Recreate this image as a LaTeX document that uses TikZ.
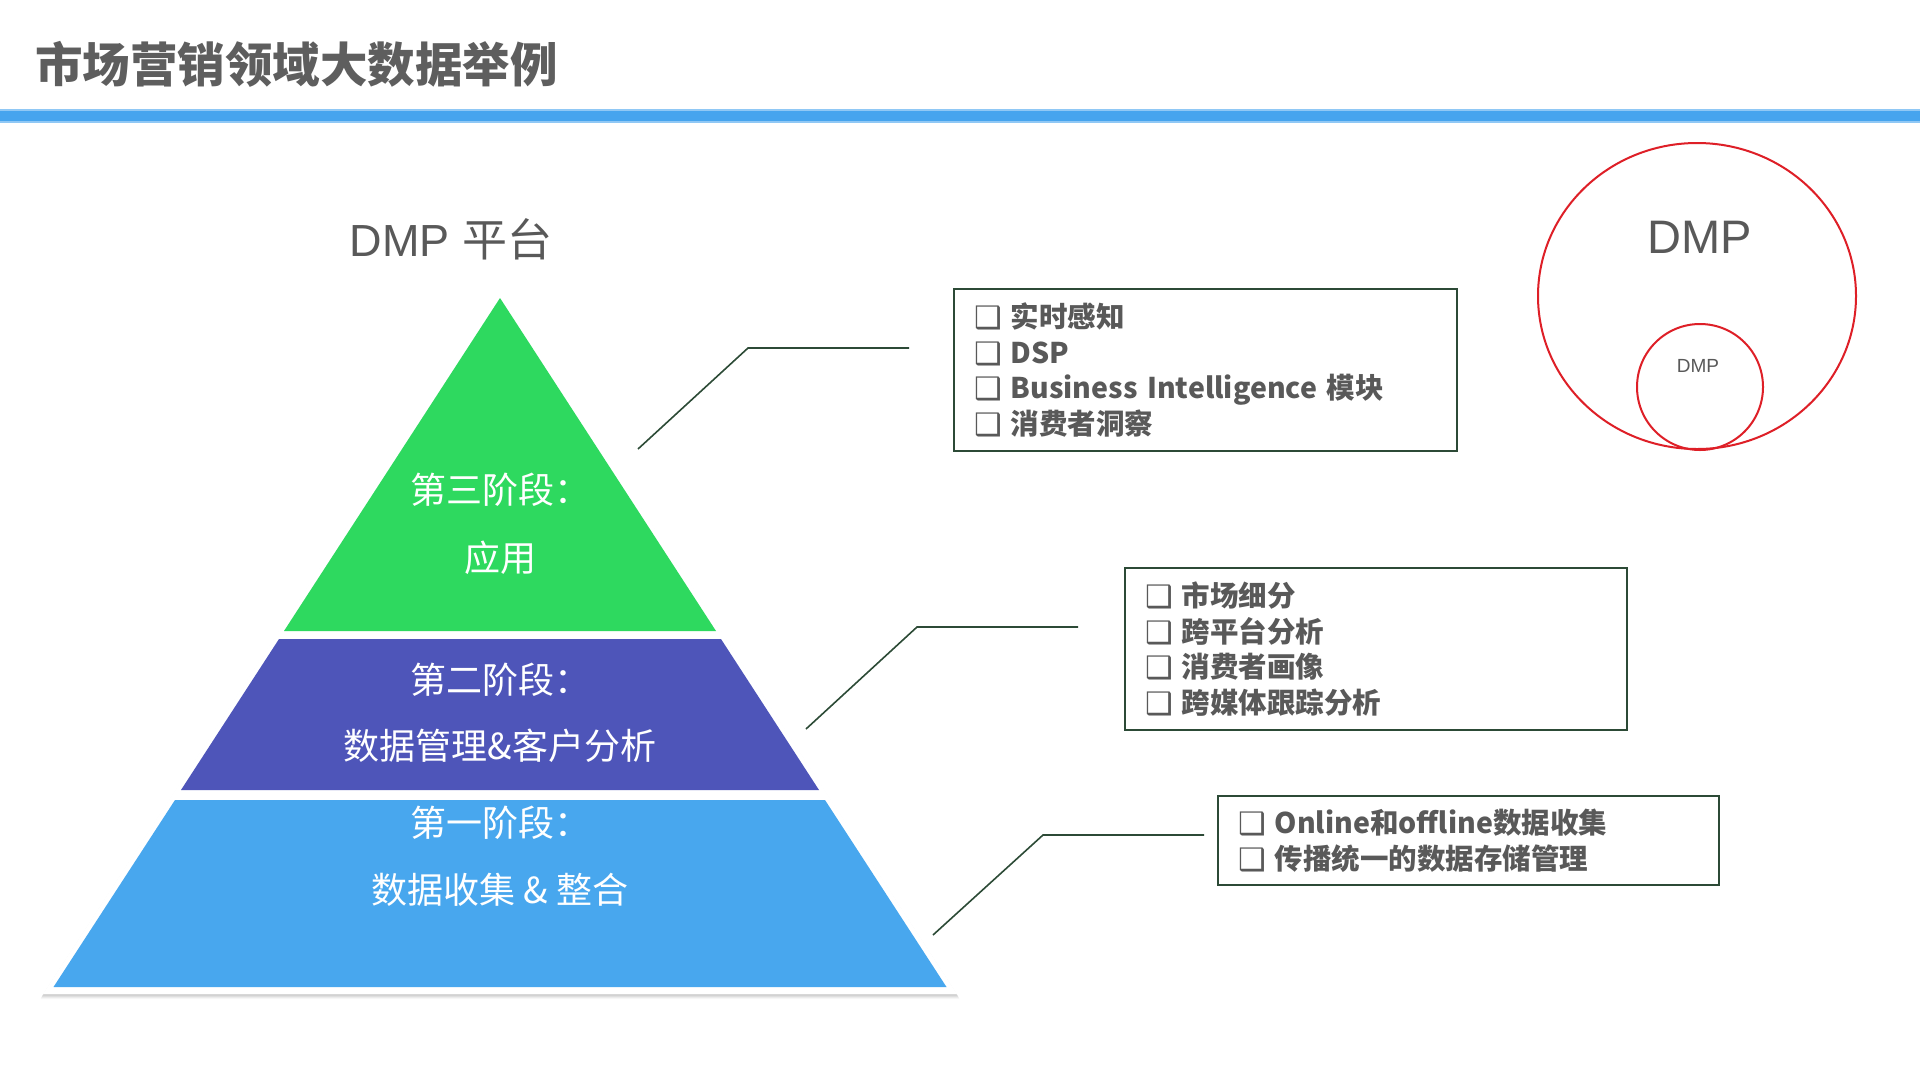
\documentclass[tikz,border=0pt]{standalone}
\usepackage{fontspec}
\setmainfont{Liberation Sans}
\newfontfamily\cjk{Noto Sans CJK SC}
\newfontfamily\symf{DejaVu Sans}
\definecolor{titlegray}{HTML}{5E5E5E}
\definecolor{textgray}{HTML}{595959}
\definecolor{barblue}{HTML}{46A4EE}
\definecolor{pgreen}{HTML}{2ED95F}
\definecolor{ppurple}{HTML}{4E55B9}
\definecolor{pblue}{HTML}{48A7EE}
\definecolor{boxgreen}{HTML}{2C4A36}
\definecolor{circred}{HTML}{DE1F27}
\newcommand{\fsz}[1]{\fontsize{#1}{#1}\selectfont}
\newcommand{\chk}{\raisebox{-1pt}{\symf\bfseries\fontsize{31}{31}\selectfont ❑}\hspace{9pt}}
\begin{document}
\begin{tikzpicture}[x=1pt,y=-1pt,
  itembox/.style={draw=boxgreen, line width=2pt, inner xsep=20pt, inner ysep=0pt,
    align=left, text=textgray, font=\cjk\bfseries\fontsize{28.5}{35.5}\selectfont},
  conn/.style={draw=boxgreen, line width=1.6pt},
  ptext/.style={text=white, font=\cjk\fsz{36}, inner sep=0pt},
  ring/.style={draw=circred, line width=2pt},
]
\useasboundingbox (0,0) rectangle (1920,1080);
\fill[white] (0,0) rectangle (1920,1080);

% title and bar
\node[anchor=west, inner sep=0pt, text=titlegray, font=\cjk\bfseries\fsz{47.5}] (title) at (35,64) {市场营销领域大数据举例};
\fill[barblue!60!white] (0,109) rectangle (1920,123);
\fill[barblue] (0,111) rectangle (1920,121);

% heading
\node[inner sep=0pt, text=textgray, font=\fsz{45}] (head) at (451,239) {DMP {\cjk 平台}};

% pyramid shadow + white outline
\foreach \i/\o in {5/0.03,4/0.04,3/0.05,2/0.06}{
  \fill[black, opacity=\o] (500,{290+\i}) -- ({957+\i*0.5},{994+\i}) -- ({43-\i*0.5},{994+\i}) -- cycle;
}
\fill[white] (500,290) -- (957,994) -- (43,994) -- cycle;

% layers
\fill[pgreen] (500,298) -- (716,631) -- (284,631) -- cycle;
\fill[ppurple] (279,639) -- (721,639) -- (819,790) -- (181,790) -- cycle;
\fill[pblue] (175,800) -- (825,800) -- (946.5,987) -- (53.5,987) -- cycle;

\node[ptext] (t3a) at (500,490) {第三阶段：};
\node[ptext] (t3b) at (500,558) {应用};
\node[ptext] (t2a) at (500,680) {第二阶段：};
\node[ptext] (t2b) at (500,746) {数据管理\&客户分析};
\node[ptext] (t1a) at (500,823) {第一阶段：};
\node[ptext] (t1b) at (500,890) {数据收集 \& 整合};

% boxes
\node[itembox, text width=463pt, minimum height=162pt] (box1) at (1205.5,370) {%
\chk 实时感知\\
\chk DSP\\
\chk Business Intelligence 模块\\
\chk 消费者洞察};
\node[itembox, text width=462pt, minimum height=162pt] (box2) at (1376,649) {%
\chk 市场细分\\
\chk 跨平台分析\\
\chk 消费者画像\\
\chk 跨媒体跟踪分析};
\node[itembox, text width=461pt, minimum height=89pt] (box3) at (1468.5,840.5) {%
\chk Online和offline数据收集\\
\chk 传播统一的数据存储管理};

% connectors
\coordinate (c1a) at (638,449);
\coordinate (c1b) at (748,348);
\coordinate (c1c) at (909,348);
\coordinate (c2a) at (806,729);
\coordinate (c2b) at (917,627);
\coordinate (c2c) at (1078,627);
\coordinate (c3a) at (933,935);
\coordinate (c3b) at (1043,835);
\coordinate (c3c) at (1204,835);
\draw[conn] (c1a) -- (c1b) -- (c1c);
\draw[conn] (c2a) -- (c2b) -- (c2c);
\draw[conn] (c3a) -- (c3b) -- (c3c);

% circles
\draw[ring] (1697,296) ellipse [x radius=159, y radius=153];
\draw[ring] (1700,387) circle [radius=63];
\node[inner sep=0pt, text=textgray, font=\fsz{47}] (dmpbig) at (1700,237) {DMP};
\node[inner sep=0pt, text=textgray, font=\fsz{19}] (dmpsmall) at (1698,366) {DMP};
\end{tikzpicture}
\end{document}
